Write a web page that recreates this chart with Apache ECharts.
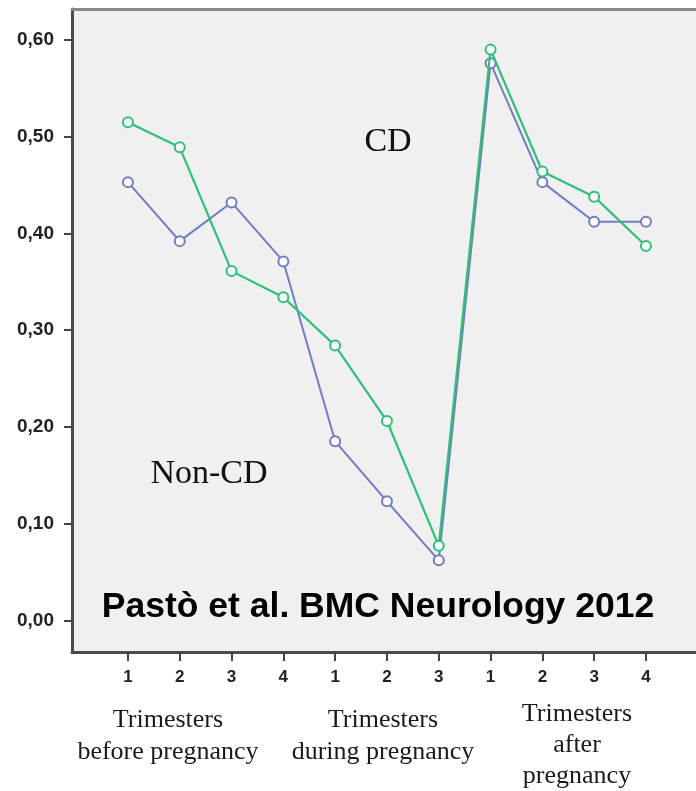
<!DOCTYPE html>
<html>
<head>
<meta charset="utf-8">
<script src="https://cdn.jsdelivr.net/npm/echarts@6/dist/echarts.min.js"></script>
<style>
  html, body { margin: 0; padding: 0; background: #ffffff; }
  #chart { width: 696px; height: 791px; }
</style>
</head>
<body>
<div id="chart"></div>
<script>
// ---- Data ----
const xPositions = [1, 2, 3, 4, 5, 6, 7, 8, 9, 10, 11];
const tickLabels = ['1', '2', '3', '4', '1', '2', '3', '1', '2', '3', '4'];
const cdValues    = [0.515, 0.489, 0.361, 0.334, 0.284, 0.206, 0.077, 0.590, 0.464, 0.438, 0.387];
const nonCdValues = [0.453, 0.392, 0.432, 0.371, 0.185, 0.123, 0.062, 0.576, 0.453, 0.412, 0.412];
const yTicks = [0, 0.1, 0.2, 0.3, 0.4, 0.5, 0.6];
const groupLabels = ['Trimesters\nbefore pregnancy', 'Trimesters\nduring pregnancy', 'Trimesters\nafter\npregnancy'];
const seriesLabels = ['CD', 'Non-CD'];
const sourceText = 'Pastò et al. BMC Neurology 2012';

const green = '#2fc078';
const blue = '#717cc4';

const chart = echarts.init(document.getElementById('chart'));

const xMin = -0.08, xMax = 11.966;

const option = {
  backgroundColor: '#ffffff',
  animation: false,
  grid: {
    left: 72, top: 9, right: 0, bottom: 139,
    show: true, backgroundColor: '#f0f0f0', borderWidth: 0
  },
  xAxis: [{
    type: 'value',
    min: xMin, max: xMax,
    axisLine: { show: true, onZero: false, lineStyle: { color: '#4a4a4a', width: 3 } },
    axisTick: { show: true, inside: false, length: 9, customValues: xPositions, lineStyle: { color: '#444', width: 2 } },
    axisLabel: {
      show: true, margin: 17,
      customValues: xPositions,
      formatter: function (v) { const i = xPositions.indexOf(v); return i >= 0 ? tickLabels[i] : ''; },
      fontFamily: 'Liberation Sans, Arial, sans-serif', fontWeight: 'bold', fontSize: 17, color: '#222'
    },
    splitLine: { show: false }
  }, {
    type: 'value', position: 'top',
    min: xMin, max: xMax,
    axisLine: { show: true, onZero: false, lineStyle: { color: '#8a8a8a', width: 3 } },
    axisTick: { show: false }, axisLabel: { show: false }, splitLine: { show: false }
  }],
  yAxis: {
    type: 'value',
    min: -0.0328, max: 0.632,
    axisLine: { show: true, onZero: false, lineStyle: { color: '#4a4a4a', width: 3 } },
    axisTick: { show: true, inside: false, length: 8, customValues: yTicks, lineStyle: { color: '#444', width: 2 } },
    axisLabel: {
      show: true, margin: 18,
      customValues: yTicks,
      formatter: function (v) { return v.toFixed(2).replace('.', ','); },
      fontFamily: 'Liberation Sans, Arial, sans-serif', fontWeight: 'bold', fontSize: 19, color: '#222'
    },
    splitLine: { show: false }
  },
  series: [{
    name: seriesLabels[1],
    type: 'line',
    data: xPositions.map((x, i) => [x, nonCdValues[i]]),
    symbol: 'emptyCircle', symbolSize: 10,
    lineStyle: { color: blue, width: 2 },
    itemStyle: { color: blue, borderColor: blue, borderWidth: 1.5 },
    z: 2
  }, {
    name: seriesLabels[0],
    type: 'line',
    data: xPositions.map((x, i) => [x, cdValues[i]]),
    symbol: 'emptyCircle', symbolSize: 10,
    lineStyle: { color: green, width: 2.2 },
    itemStyle: { color: green, borderColor: green, borderWidth: 1.5 },
    z: 3
  }],
  graphic: [
    { type: 'text', x: 388, y: 142, style: { text: seriesLabels[0], font: '34px "Liberation Serif", "Times New Roman", serif', fill: '#111', align: 'center', verticalAlign: 'middle' } },
    { type: 'text', x: 209, y: 474, style: { text: seriesLabels[1], font: '34px "Liberation Serif", "Times New Roman", serif', fill: '#111', align: 'center', verticalAlign: 'middle' } },
    { type: 'text', x: 378, y: 607, style: { text: sourceText, font: 'bold 35.5px "Liberation Sans", Arial, sans-serif', fill: '#000', align: 'center', verticalAlign: 'middle' } },
    { type: 'text', x: 168, y: 704, style: { text: groupLabels[0], font: '26px "Liberation Serif", "Times New Roman", serif', lineHeight: 32, fill: '#1a1a1a', align: 'center', verticalAlign: 'top' } },
    { type: 'text', x: 383, y: 704, style: { text: groupLabels[1], font: '26px "Liberation Serif", "Times New Roman", serif', lineHeight: 32, fill: '#1a1a1a', align: 'center', verticalAlign: 'top' } },
    { type: 'text', x: 577, y: 699, style: { text: groupLabels[2], font: '26px "Liberation Serif", "Times New Roman", serif', lineHeight: 31, fill: '#1a1a1a', align: 'center', verticalAlign: 'top' } }
  ]
};
chart.setOption(option);
</script>
</body>
</html>
